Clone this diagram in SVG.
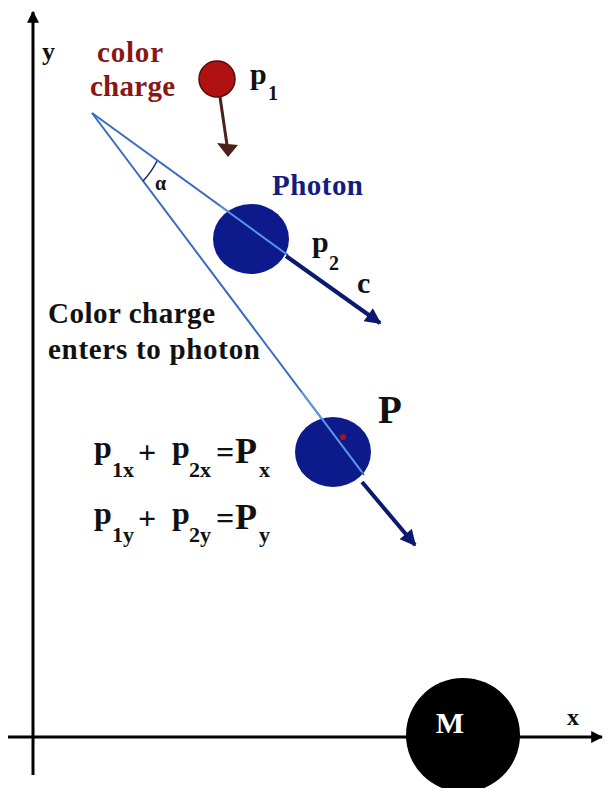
<svg xmlns="http://www.w3.org/2000/svg" width="605" height="788" viewBox="0 0 605 788" font-family="'Liberation Serif', 'DejaVu Serif', serif" font-weight="bold">
<style>
.k{fill:#111}
.red{fill:#8a1616}
.navy{fill:#141c80}
.ln{stroke:#3a6cc0;stroke-width:2;fill:none}
.lt{stroke:#5f9be6;stroke-width:1.5;fill:none}
.thick{stroke:#0b1a6e;stroke-width:4;fill:none}
.axis{stroke:#000;stroke-width:3;fill:none}
</style>
<defs>
<marker id="ah" viewBox="0 0 10 10" refX="9" refY="5" markerWidth="4.5" markerHeight="4" orient="auto" markerUnits="strokeWidth">
<path d="M0,0 L10,5 L0,10 z" fill="#0b1a6e"/>
</marker>
<marker id="axh" viewBox="0 0 10 10" refX="9" refY="5" markerWidth="4" markerHeight="4" orient="auto" markerUnits="strokeWidth">
<path d="M0,0 L10,5 L0,10 z" fill="#000"/>
</marker>
</defs>
<rect width="605" height="788" fill="#fff"/>

<g id="axes">
<line class="axis" x1="33" y1="775" x2="33" y2="12" marker-end="url(#axh)"/>
<line class="axis" x1="8" y1="737" x2="602" y2="737" marker-end="url(#axh)"/>
<text class="k" x="42" y="60" font-size="26">y</text>
<text class="k" x="567" y="725" font-size="24">x</text>
</g>

<g id="mass">
<circle cx="463" cy="735" r="57" fill="#000"/>
<text x="450" y="733" font-size="30" fill="#fff" text-anchor="middle">M</text>
</g>

<g id="color-charge">
<circle cx="217" cy="79" r="18" fill="#b01212" stroke="#5a0a0a" stroke-width="1.5"/>
<text class="red" x="97" y="62" font-size="29" textLength="66">color</text>
<text class="red" x="90" y="96" font-size="29" textLength="85">charge</text>
<text class="k" x="250" y="84" font-size="30">p<tspan x="268" y="100" font-size="20">1</tspan></text>
</g>

<g id="photon">
<ellipse cx="251" cy="239" rx="38" ry="35" fill="#0d1a8c"/>
<text class="navy" x="272" y="195" font-size="29" textLength="91">Photon</text>
<text class="k" x="312" y="252" font-size="30">p<tspan x="329" y="270" font-size="20">2</tspan></text>
<text class="k" x="357" y="293" font-size="30">c</text>
</g>

<g id="result">
<ellipse cx="333" cy="452" rx="38" ry="35" fill="#0d1a8c"/>
<circle cx="343" cy="437" r="3" fill="#a01818"/>
<text class="k" x="378" y="423" font-size="39">P</text>
</g>

<g id="labels">
<text class="k" x="48" y="323" font-size="29" textLength="167">Color charge</text>
<text class="k" x="48" y="359" font-size="29" textLength="212">enters to photon</text>
<text class="k" x="155" y="190" font-size="20">α</text>
</g>

<g id="equations">
<text class="k" font-size="32"><tspan x="94" y="458">p</tspan><tspan x="112" y="477" font-size="22">1x</tspan><tspan x="138" y="463">+</tspan><tspan x="172" y="458">p</tspan><tspan x="189" y="477" font-size="22">2x</tspan><tspan x="216" y="463">=</tspan><tspan x="235" y="463" font-size="36">P</tspan><tspan x="259" y="477" font-size="22">x</tspan></text>
<text class="k" font-size="32"><tspan x="94" y="524">p</tspan><tspan x="112" y="542" font-size="22">1y</tspan><tspan x="138" y="529">+</tspan><tspan x="172" y="524">p</tspan><tspan x="189" y="542" font-size="22">2y</tspan><tspan x="216" y="529">=</tspan><tspan x="235" y="529" font-size="36">P</tspan><tspan x="259" y="542" font-size="22">y</tspan></text>
</g>

<g id="connectors">
<line class="ln" x1="92" y1="113" x2="288" y2="255"/>
<line class="ln" x1="92" y1="113" x2="364" y2="475"/>
<line class="lt" x1="220" y1="206" x2="286" y2="254"/>
<line class="lt" x1="302" y1="392" x2="362" y2="472"/>
<line class="thick" x1="286" y1="256" x2="380" y2="323" marker-end="url(#ah)"/>
<line class="thick" x1="362" y1="482" x2="415" y2="545" marker-end="url(#ah)"/>
<path d="M157,161 A82,82 0 0 1 143,181" fill="none" stroke="#1a2a60" stroke-width="1.5"/>
<line x1="220" y1="97" x2="227" y2="145" stroke="#4a2018" stroke-width="3"/>
<polygon points="217,143 238,145 228,157" fill="#4a2018"/>
</g>
</svg>
